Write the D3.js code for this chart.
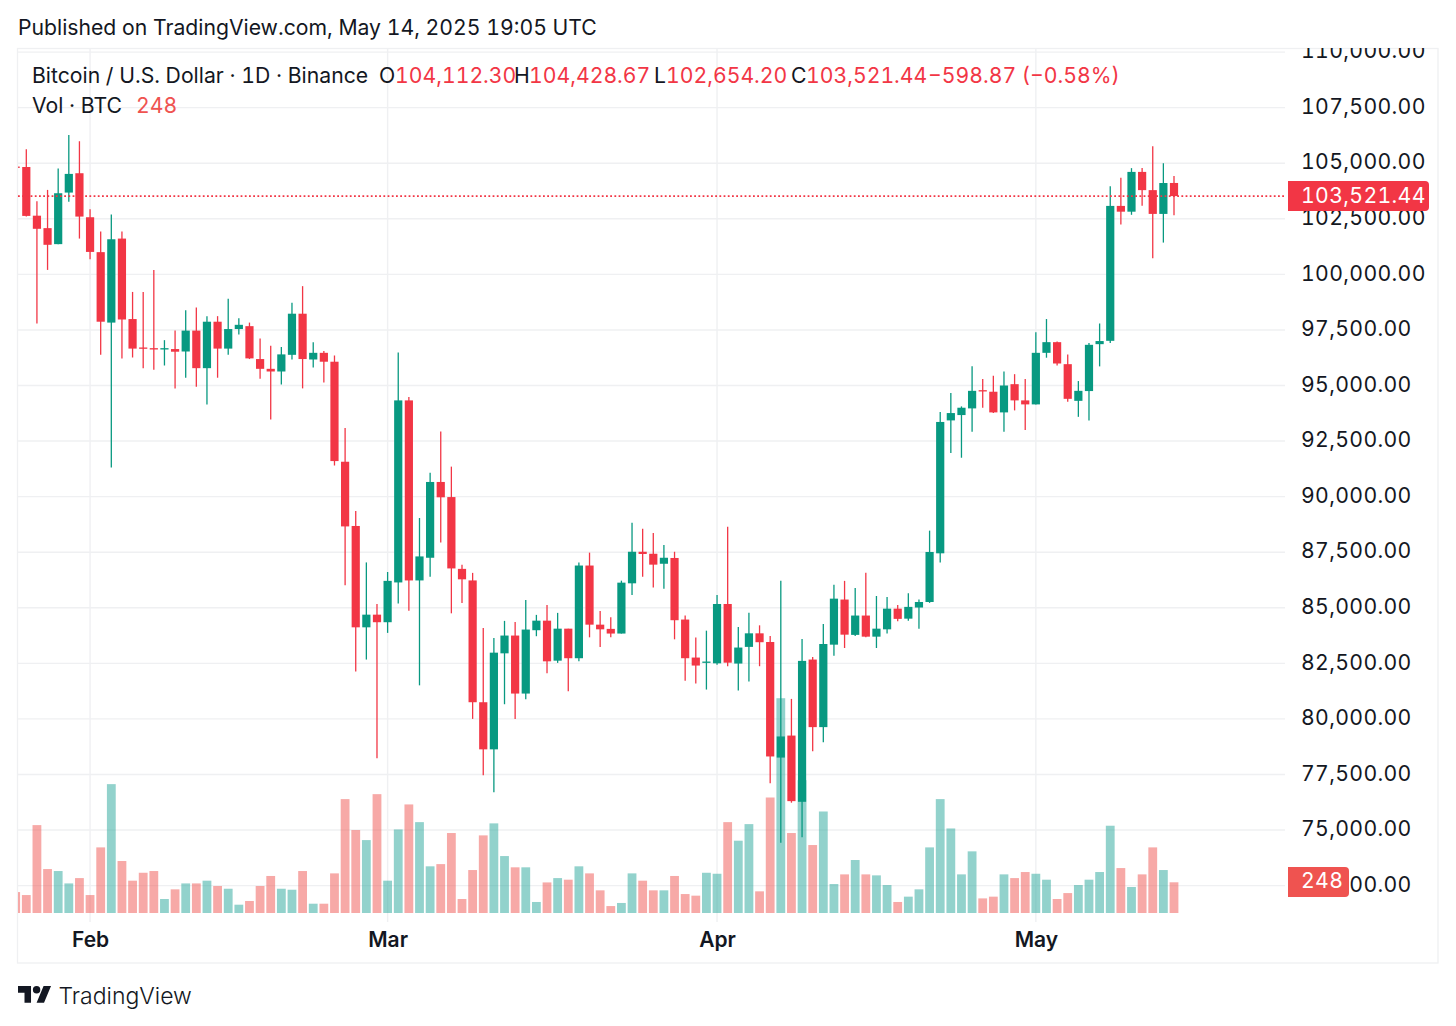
<!DOCTYPE html>
<html>
<head>
<meta charset="utf-8">
<script src="https://cdn.jsdelivr.net/npm/d3@7"></script>
<style>
html, body { margin: 0; padding: 0; background: #fff; }
svg { display: block; }
text { font-family: Inter, "Noto Sans", sans-serif; fill: #131722; font-variant-numeric: tabular-nums; }
</style>
</head>
<body>
<svg id="chart" width="1456" height="1026"></svg>
<script>
// first entry is the day cut off by the left edge of the pane, last one is May 14
var opens = [104850,
	104830,102640,102080,101360,103680,104550,102570,101000,97830,101610,
	97990,96710,96680,96620,96640,96530,97470,95780,97870,96660,
	97540,97670,96190,95750,95630,96380,98230,96170,96470,96070,
	91570,88680,84120,84690,84350,86140,94330,86230,87250,90660,
	89980,86750,86230,80750,78630,82950,83750,81140,83990,84420,
	82620,84060,82730,86900,84240,84050,83840,86100,87520,87430,
	86980,87240,84470,82760,82530,82500,85170,82490,83240,83850,
	83460,78260,79250,76270,82670,79630,83340,85370,83780,84650,
	83700,84030,84960,84510,85010,85260,87450,93430,93670,93970,
	94790,94720,93790,95060,94330,94150,96470,96950,95960,94310,
	94750,96860,97010,103080,102820,104610,103790,102720,104112.30];
var highs = [104850,
	105630,103290,103800,104760,106270,105990,102930,101930,102690,101930,
	99210,99210,100200,97040,97470,98390,98510,98120,98120,98900,
	98030,97830,97110,96790,96730,98720,99470,96950,96550,96350,
	93090,89350,87040,85170,86610,96490,94480,89040,91080,92930,
	91350,86930,86570,84090,83640,84410,84360,85350,84680,85130,
	84770,84060,87040,87480,84860,84570,86220,88830,88560,88360,
	87820,87520,84650,83660,83970,85580,88650,84140,84780,84210,
	83730,86210,80900,83600,82790,84270,86040,86210,85890,86570,
	85530,85490,85130,85650,85370,88470,93810,94660,94060,95870,
	95290,95440,95630,95510,95290,97400,97990,96980,96400,95200,
	96910,97790,103970,104350,104780,104780,105760,105000,104428.67];
var lows = [104830,
	102600,97790,100200,101360,103270,101610,100680,96380,91310,96220,
	96260,95780,95710,95900,94870,95350,94940,94150,95350,96380,
	97290,96190,95300,93470,95050,96170,94870,95810,95140,91400,
	86010,82130,82670,78230,83870,85190,84870,81510,86400,87940,
	84750,85220,80000,77470,76700,80660,80000,80880,83720,82050,
	82520,81240,82590,83670,83240,83670,83840,85580,86390,85910,
	85860,83580,81720,81590,81320,82440,82370,81280,81680,82370,
	77110,74430,76230,74680,78550,78950,82840,83190,83730,83670,
	83190,83840,84390,84420,84060,85220,87040,91960,91750,92920,
	94000,93760,92920,93880,93000,94150,96250,95900,94270,93590,
	93430,95860,96910,102240,102680,103090,100730,101430,102654.20];
var closes = [104830,
	102630,102050,101330,103650,104520,102600,101010,97870,101580,97970,
	96660,96660,96620,96680,96520,97470,95780,97870,96660,97540,
	97730,96220,95750,95630,96400,98230,96190,96470,96070,91600,
	88660,84120,84690,84350,86210,94330,86230,87310,90660,89970,
	86770,86280,80750,78630,82980,83750,81140,84020,84420,82590,
	84060,82730,86900,84240,84030,83840,86130,87520,87420,86940,
	87250,84440,82730,82400,82580,85170,82530,83210,83850,83450,
	78310,79210,76300,82610,79630,83370,85410,83790,84650,83700,
	84060,84960,84500,85040,85260,87510,93360,93760,94000,94760,
	94750,93790,95000,94330,94150,96470,96950,95990,94400,94760,
	96830,97000,103080,102820,104610,103790,102720,104110,103521.44];
var volumes = [169,
	145,710,355,339,239,282,145,530,1041,420,
	261,325,339,113,191,239,239,261,218,196,
	67,97,218,299,196,188,339,75,75,320,
	920,670,589,960,261,675,877,734,377,395,
	646,113,347,627,724,460,369,369,89,247,
	282,269,377,320,183,56,81,320,261,183,
	183,299,153,140,325,317,734,584,718,175,
	933,1735,646,1073,549,820,234,312,428,312,
	304,226,89,132,191,530,920,683,312,498,
	118,132,312,282,331,317,269,113,161,226,
	269,331,705,363,210,312,530,347,248];

var FIRST_DAY = -1;
var priceTicks = [72500,75000,77500,80000,82500,85000,87500,90000,92500,95000,97500,100000,102500,105000,107500,110000];
var monthDays = [6, 34, 65, 95];
var monthNames = ["Feb", "Mar", "Apr", "May"];

var UP = "#089981";
var DOWN = "#f23645";
var UP_VOL = "#26a69a";
var DOWN_VOL = "#ef5350";
var GRID = "#eff0f2";
var BODY_W = 8.2;
var VOL_W = 8.8;
var WICK_W = 1.3;
var FONT_SIZE = 21.2;

var left = 18, right = 1285, top_ = 48, bottom = 922, base = 913;

var x = d3.scaleLinear().domain([0, 108]).range([26.3, 1174]);
var y = d3.scaleLinear().domain([72500, 110000]).range([885.6, 52.1]);
var vol = d3.scaleLinear().domain([0, 248]).range([base, base - 30.7]);

var svg = d3.select("#chart");
var days = d3.range(opens.length);

function dayX(i) {
	return x(i + FIRST_DAY);
}
function isUp(i) {
	return closes[i] >= opens[i];
}

var defs = svg.append("defs");
defs.append("clipPath").attr("id", "pane").append("rect")
	.attr("x", left).attr("y", top_).attr("width", right - left).attr("height", bottom - top_);
defs.append("clipPath").attr("id", "axisClip").append("rect")
	.attr("x", right).attr("y", top_).attr("width", 1438 - right).attr("height", 963 - top_);

// outer frame
svg.append("rect")
	.attr("x", 17.5).attr("y", 48.5).attr("width", 1420.5).attr("height", 914.5)
	.attr("fill", "none").attr("stroke", GRID).attr("stroke-width", 1.3);

// grid
var grid = svg.append("g");
grid.selectAll("line.h").data(priceTicks).join("line")
	.attr("class", "h")
	.attr("x1", left).attr("x2", right)
	.attr("y1", function(d) {return y(d);}).attr("y2", function(d) {return y(d);})
	.attr("stroke", GRID).attr("stroke-width", 1.4);
grid.selectAll("line.v").data(monthDays).join("line")
	.attr("class", "v")
	.attr("x1", function(d) {return x(d);}).attr("x2", function(d) {return x(d);})
	.attr("y1", top_).attr("y2", bottom)
	.attr("stroke", GRID).attr("stroke-width", 1.4);

var pane = svg.append("g").attr("clip-path", "url(#pane)");

// volume goes under the candles
pane.append("g").selectAll("rect").data(days).join("rect")
	.attr("x", function(i) {return dayX(i) - VOL_W / 2;})
	.attr("y", function(i) {return vol(volumes[i]);})
	.attr("width", VOL_W)
	.attr("height", function(i) {return base - vol(volumes[i]);})
	.attr("fill", function(i) {return isUp(i) ? UP_VOL : DOWN_VOL;})
	.attr("fill-opacity", 0.5);

var candles = pane.append("g");
candles.selectAll("line").data(days).join("line")
	.attr("x1", dayX).attr("x2", dayX)
	.attr("y1", function(i) {return y(highs[i]);})
	.attr("y2", function(i) {return y(lows[i]);})
	.attr("stroke", function(i) {return isUp(i) ? UP : DOWN;})
	.attr("stroke-width", WICK_W);
candles.selectAll("rect").data(days).join("rect")
	.attr("x", function(i) {return dayX(i) - BODY_W / 2;})
	.attr("y", function(i) {return y(Math.max(opens[i], closes[i]));})
	.attr("width", BODY_W)
	.attr("height", function(i) {return Math.max(1.3, Math.abs(y(opens[i]) - y(closes[i])));})
	.attr("fill", function(i) {return isUp(i) ? UP : DOWN;});

// last price line
var lastClose = closes[closes.length - 1];
svg.append("line")
	.attr("x1", left).attr("x2", right)
	.attr("y1", y(lastClose)).attr("y2", y(lastClose))
	.attr("stroke", DOWN).attr("stroke-width", 1.6).attr("stroke-dasharray", "1.8 2.4");

// price axis
var yAxis = d3.axisRight(y).tickValues(priceTicks).tickSize(0).tickPadding(16)
	.tickFormat(d3.format(",.2f"));
var yG = svg.append("g")
	.attr("clip-path", "url(#axisClip)")
	.append("g")
	.attr("transform", "translate(" + right + ",0)")
	.call(yAxis);
yG.select(".domain").remove();
yG.selectAll("text")
	.attr("dy", "0.27em")
	.attr("font-size", FONT_SIZE)
	.attr("letter-spacing", 0.35)
	.style("font-family", "Inter")
	.style("fill", "#131722");

// month axis
var xAxis = d3.axisBottom(x).tickValues(monthDays).tickSize(0).tickPadding(0)
	.tickFormat(function(d, i) {return monthNames[i];});
var xG = svg.append("g")
	.attr("transform", "translate(0,932.5)")
	.call(xAxis);
xG.select(".domain").remove();
xG.selectAll("text")
	.attr("font-size", 21)
	.attr("font-weight", 600)
	.style("font-family", "Inter")
	.style("fill", "#131722");

// price and volume tags
function priceTag(x0, w, yc, color, str, tx) {
	svg.append("path")
		.attr("d", "M" + x0 + "," + (yc - 15) + " h" + (w - 4) + " a4,4 0 0 1 4,4 v22 a4,4 0 0 1 -4,4 h-" + (w - 4) + " z")
		.attr("fill", color);
	svg.append("text")
		.attr("x", tx).attr("y", yc - 1).attr("dy", "0.35em")
		.attr("font-size", FONT_SIZE)
		.attr("letter-spacing", 0.35)
		.style("fill", "#fff")
		.text(str);
}
priceTag(1288, 141, y(lastClose), DOWN, d3.format(",.2f")(lastClose), 1301);
priceTag(1288, 61, 882, DOWN_VOL, String(volumes[volumes.length - 1]), 1301);

// header
function label(tx, ty, str, color) {
	svg.append("text")
		.attr("x", tx).attr("y", ty).attr("dy", "0.35em")
		.attr("font-size", FONT_SIZE)
		.style("fill", color || "#131722")
		.text(str);
}
label(18, 28, "Published on TradingView.com, May 14, 2025 19:05 UTC");
label(32, 76, "Bitcoin / U.S. Dollar · 1D · Binance");
label(379, 76, "O");
label(395, 76, "104,112.30", DOWN);
label(514, 76, "H");
label(529, 76, "104,428.67", DOWN);
label(654, 76, "L");
label(666, 76, "102,654.20", DOWN);
label(791, 76, "C");
label(806, 76, "103,521.44", DOWN);
label(928, 76, "−598.87 (−0.58%)", DOWN);
label(32, 106, "Vol · BTC");
label(136, 106, "248", DOWN_VOL);

// logo
var logo = svg.append("g").attr("transform", "translate(18,982.4) scale(0.93)").attr("fill", "#131722");
logo.append("path").attr("d", "M14 22H7V11H0V4h14v18zM28 22h-8l7.5-18h8L28 22z");
logo.append("circle").attr("cx", 20).attr("cy", 8).attr("r", 4);
svg.append("text")
	.attr("x", 58.5).attr("y", 996).attr("dy", "0.35em")
	.attr("font-size", 23).attr("font-weight", 300)
	.text("TradingView");
</script>
</body>
</html>
